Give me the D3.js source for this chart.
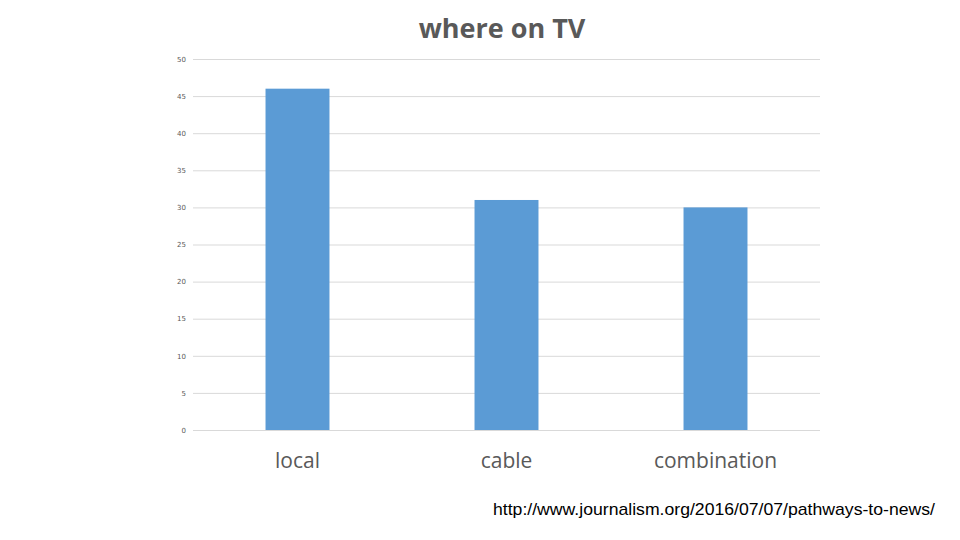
<!DOCTYPE html>
<html><head><meta charset="utf-8">
<script src="https://cdn.jsdelivr.net/npm/d3@7"></script>
<style>body{margin:0;background:#fff}svg{display:block}</style>
</head><body>
<script>
const categories = ["local", "cable", "combination"];
const values = [46, 31, 30];
const yTicks = [0, 5, 10, 15, 20, 25, 30, 35, 40, 45, 50];
const titleText = "where on TV";
const sourceText = "http://www.journalism.org/2016/07/07/pathways-to-news/";

const W = 960, H = 540;
const m = {left: 193, right: 140, top: 59, bottom: 110};
const svg = d3.select("body").append("svg").attr("width", W).attr("height", H);

const x = d3.scaleBand().domain(categories).range([m.left, W - m.right]).paddingInner(0.694).paddingOuter(0.347);
const y = d3.scaleLinear().domain([0, 50]).range([H - m.bottom, m.top]);

const g = svg.append("g");
const yAxis = d3.axisLeft(y).tickValues(yTicks).tickSize(-(W - m.left - m.right)).tickPadding(7);
const ya = g.append("g").attr("transform", `translate(${m.left},0)`).call(yAxis);
ya.select(".domain").remove();
ya.selectAll(".tick line").attr("stroke", "#d9d9d9").attr("stroke-width", 1);
ya.selectAll(".tick text").attr("fill", "#595959").attr("font-size", 7).attr("font-family", "DejaVu Sans");

g.selectAll("rect.bar").data(values).join("rect").attr("class", "bar")
  .attr("x", (d, i) => x(categories[i]))
  .attr("width", x.bandwidth())
  .attr("y", d => y(d))
  .attr("height", d => y(0) - y(d))
  .attr("fill", "#5b9bd5");

g.selectAll("text.cat").data(categories).join("text").attr("class", "cat")
  .attr("x", d => x(d) + x.bandwidth() / 2)
  .attr("y", 468)
  .attr("text-anchor", "middle")
  .attr("fill", "#595959")
  .attr("font-family", "Open Sans, sans-serif")
  .attr("font-size", 21)
  .text(d => d);

svg.append("text").attr("x", 502).attr("y", 38).attr("text-anchor", "middle")
  .attr("fill", "#595959").attr("font-weight", "bold")
  .attr("font-family", "Open Sans, sans-serif").attr("font-size", 27).text(titleText);

svg.append("text").attr("x", 493).attr("y", 515)
  .attr("fill", "#000").attr("font-family", "Liberation Sans, sans-serif")
  .attr("font-size", 17).attr("textLength", 442).attr("lengthAdjust", "spacingAndGlyphs").text(sourceText);
</script>
</body></html>
